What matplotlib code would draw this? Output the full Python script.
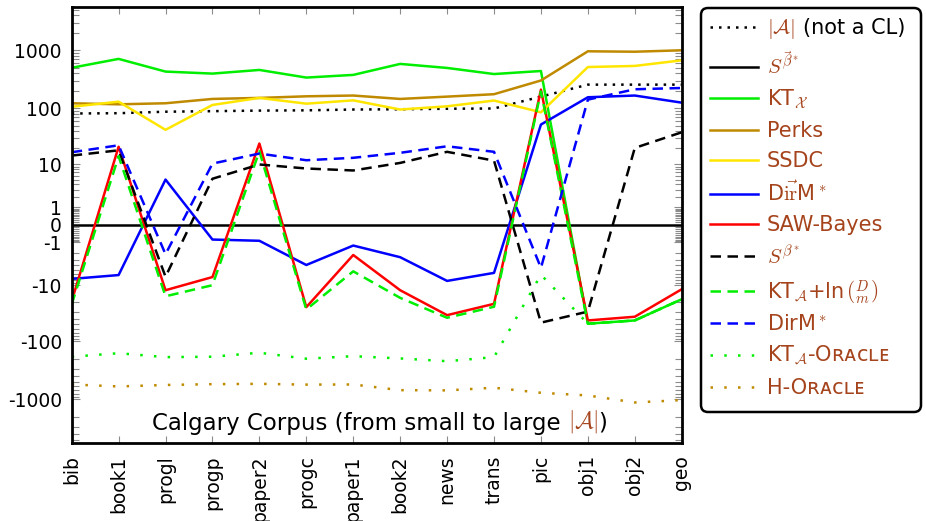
import numpy as np
import matplotlib
matplotlib.use("Agg")
import matplotlib.pyplot as plt
from matplotlib.patches import FancyBboxPatch
from matplotlib.transforms import IdentityTransform

plt.rcParams['font.family'] = ['DejaVu Sans']
plt.rcParams['mathtext.fontset'] = 'cm'

# ====== data (relative to S^vec-beta*) ======
files = ["bib", "book1", "progl", "progp", "paper2", "progc", "paper1",
         "book2", "news", "trans", "pic", "obj1", "obj2", "geo"]

alphabet_size = [81, 82, 87, 89, 91, 92, 95, 96, 98, 99, 159, 256, 256, 256]
s_vec_beta = [0, 0, 0, 0, 0, 0, 0, 0, 0, 0, 0, 0, 0, 0]
kt_x = [500, 711, 430, 397, 459, 339, 377, 583, 497, 390, 440, -49, -43, -18]
perks = [122, 117, 122, 145, 151, 161, 166, 145, 159, 175, 302, 961, 945, 1000]
ssdc = [106, 130, 42, 114, 151, 120, 137, 95, 108, 136, 85, 515, 538, 672]
dirm_vec = [-7.5, -6.3, 5.0, -0.79, -0.88, -3.9, -1.27, -2.6, -8.2, -5.7, 52, 155, 166, 125]
saw_bayes = [-19.5, 21, -12.3, -6.9, 24, -25, -2.3, -12.3, -34.7, -21.8, 210, -43, -37, -11.8]
s_beta = [14.5, 18.1, -6.8, 5.2, 9.9, 8.3, 7.6, 10.6, 17, 11.7, -47, -30, 20, 38]
kt_a_ln = [-22.4, 14.1, -15.9, -9.9, 17.4, -27.5, -5.3, -17, -38.6, -24.6, 195, -49, -43, -18]
dirm_star = [16.7, 22.3, -2.2, 10.3, 15.8, 11.9, 13.2, 16.3, 21.4, 17, -4.5, 141, 213, 224]
kt_a_oracle = [-184, -160, -187, -184, -157, -199, -180, -197, -220, -187, -6.2, -49, -43, -18]
h_oracle = [-554, -599, -565, -547, -540, -557, -554, -694, -700, -630, -770, -856, -1130, -1030]

ytick_vals = [-1000, -100, -10, -1, 0, 1, 10, 100, 1000]
ytick_txt = ["-1000", "-100", "-10", "-1", "0", "1", "10", "100", "1000"]

BROWN_TXT = '#A5441C'
PERKS_COL = '#BF8A00'
SSDC_COL = '#FFE600'
GREEN = '#00EE00'
BLUE = '#0000FF'
RED = '#FF0000'

DOT = (0, (1, 2.4))
DOT_WIDE = (0, (1, 4.5))
DASH = (0, (4.2, 2.6))


# ====== y-scale: sign(x) * log10(1 + |x|) ======
def fwd(v):
    v = np.asarray(v, dtype=float)
    return np.sign(v) * np.log10(1 + np.abs(v))


def inv(v):
    v = np.asarray(v, dtype=float)
    return np.sign(v) * (10 ** np.abs(v) - 1)


fig = plt.figure(figsize=(9.26, 5.21), dpi=100)
ax = fig.add_axes([0.0774, 0.1503, 0.6588, 0.8363])
ax.set_yscale('function', functions=(fwd, inv))

x = np.arange(len(files))
series = [
    (r'$|\mathcal{A}|$', alphabet_size, 'black', DOT),
    (r'$S^{\vec{\beta}^*}$', s_vec_beta, 'black', '-'),
    (r'KT$_{\mathcal{X}}$', kt_x, GREEN, '-'),
    ('Perks', perks, PERKS_COL, '-'),
    ('SSDC', ssdc, SSDC_COL, '-'),
    (r'D$\vec{\mathrm{ir}}$M$^*$', dirm_vec, BLUE, '-'),
    ('SAW-Bayes', saw_bayes, RED, '-'),
    (r'$S^{\beta^*}$', s_beta, 'black', DASH),
    (r'KT$_{\mathcal{A}}$+ln$\,\binom{D}{m}$', kt_a_ln, GREEN, DASH),
    (r'DirM$^*$', dirm_star, BLUE, DASH),
    (r'KT$_{\mathcal{A}}$-Oʀᴀᴄʟᴇ', kt_a_oracle, GREEN, DOT_WIDE),
    ('H-Oʀᴀᴄʟᴇ', h_oracle, PERKS_COL, DOT_WIDE),
]

handles = []
for lbl, vals, col, ls in series:
    ln, = ax.plot(x, vals, color=col, linestyle=ls, lw=1.8, label=lbl)
    handles.append(ln)

# ====== axes ======
lim = inv(3.745)
ax.set_ylim(-lim, lim)
ax.set_xlim(0, len(files) - 1)
ax.set_xticks(x)
ax.set_xticklabels(files, rotation=90)
ax.set_yticks(ytick_vals)
ax.set_yticklabels(ytick_txt)

minor = []
for dec in [0.1, 1, 10, 100, 1000]:
    start = 1 if dec == 0.1 else 2
    for k in range(start, 10):
        v = k * dec
        if v < lim:
            minor += [v, -v]
ax.set_yticks(minor, minor=True)

ax.tick_params(axis='both', which='both', direction='in', color='#8c8c8c',
               top=True, right=True, width=0.8)
ax.tick_params(axis='y', which='major', length=6, labelsize=13.5, pad=7)
ax.tick_params(axis='y', which='minor', length=5)
ax.tick_params(axis='x', which='major', length=5, labelsize=13.5, pad=9)
for s in ax.spines.values():
    s.set_linewidth(2)

# ====== corpus caption inside the axes ======
t1 = ax.text(0.132, 0.018, "Calgary Corpus (from small to large ", transform=ax.transAxes,
             fontsize=16.5, va='bottom', ha='left')
t2 = ax.annotate(r"$|\mathcal{A}|$", xy=(1, 0), xycoords=t1, va='bottom', ha='left',
                 fontsize=16.5, color=BROWN_TXT)
ax.annotate(")", xy=(1, 0), xycoords=t2, va='bottom', ha='left', fontsize=16.5)

# ====== legend (frame drawn by hand so it keeps the reference size) ======
leg = fig.legend(handles=handles, loc='upper left', bbox_to_anchor=(701 / 926, 1 - 8 / 521),
                 borderaxespad=0, fontsize=15, handlelength=2.3, labelspacing=0.47,
                 borderpad=0.45, handletextpad=0.4, frameon=False)
texts = leg.get_texts()
for txt in texts:
    txt.set_color(BROWN_TXT)

box = FancyBboxPatch((701, 521 - 412), 220, 404, boxstyle="round,pad=0,rounding_size=7",
                     transform=IdentityTransform(), facecolor='white', edgecolor='black',
                     linewidth=1.8, zorder=4)
fig.add_artist(box)

# "(not a CL)" in black right after the brown |A|
fig.canvas.draw()
bb = texts[0].get_window_extent()
px, py = texts[0].get_transform().transform(texts[0].get_position())
fig.text(bb.x1 + 9, py, '(not a CL)', transform=IdentityTransform(), fontsize=15,
         color='black', ha='left', va='baseline', zorder=10)

fig.savefig("out.png", dpi=100)
